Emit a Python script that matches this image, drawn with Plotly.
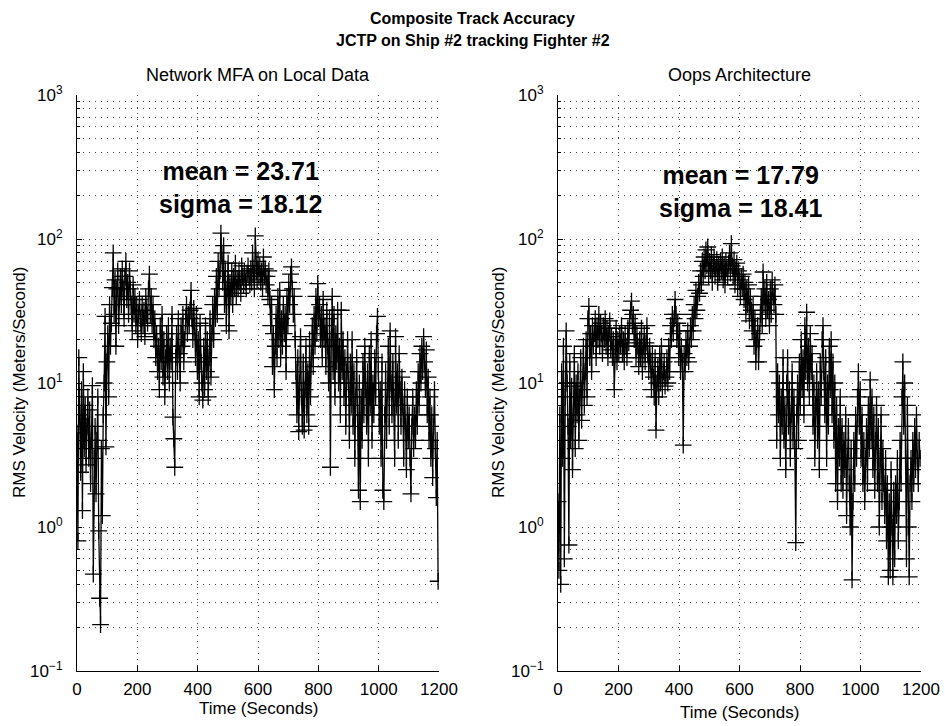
import plotly.graph_objects as go

# Sample times (seconds), one sample every 3 s
time_s = [3 * i for i in range(400)]

# RMS velocity error, Network MFA on local data (m/s)
mfa_rms = [
    4.5, 0.8, 15, 6, 2.4, 9, 1.3, 12, 3.5, 7,
    2.7, 5, 8, 3, 6.5, 2, 4, 9.6, 0.47, 3,
    5, 1.7, 4, 8, 0.94, 0.32, 0.21, 3.5, 1.2, 6,
    10, 29, 3.6, 14, 22, 8, 35, 18, 26, 46,
    80, 30, 52, 18, 45, 60, 25, 40, 55, 35,
    62, 45, 28, 55, 70, 38, 50, 30, 60, 45,
    35, 23, 48, 30, 40, 25, 35, 20, 30, 38,
    28, 22, 35, 25, 32, 21, 40, 30, 26, 45,
    57, 30, 40, 25, 35, 20, 28, 15, 22, 12,
    18, 9, 25, 14, 30, 11, 20, 8, 15, 22,
    12, 25, 10, 18, 14, 30, 5.8, 4.1, 2.6, 15,
    22, 12, 28, 16, 10, 25, 18, 30, 14, 20,
    28, 35, 22, 30, 25, 32, 44, 28, 20, 33,
    25, 15, 30, 12, 20, 8, 26, 14, 10, 7.6,
    18, 9, 25, 12, 20, 8, 15, 28, 11, 22,
    35, 20, 40, 28, 55, 30, 70, 45, 60, 110,
    80, 50, 90, 35, 60, 25, 45, 68, 23, 50,
    40, 60, 35, 55, 45, 68, 40, 52, 45, 60,
    50, 42, 65, 55, 48, 60, 50, 45, 58, 65,
    55, 48, 62, 50, 80, 58, 45, 105, 60, 52,
    70, 55, 65, 50, 60, 45, 75, 55, 62, 48,
    55, 40, 60, 38, 25, 35, 13, 22, 9, 18,
    30, 15, 40, 20, 44, 15, 28, 18, 35, 22,
    30, 12, 40, 25, 50, 35, 57, 64, 45, 30,
    40, 20, 12, 6, 15, 4.6, 10, 21, 8, 5,
    14, 4.7, 9, 18, 6, 12, 5, 20, 8, 15,
    25, 13, 30, 18, 40, 22, 49, 28, 35, 20,
    30, 15, 38, 20, 25, 13, 32, 18, 10, 28,
    2.6, 20, 40, 12, 30, 8, 22, 14, 32, 10,
    18, 6, 32, 12, 20, 8, 15, 5, 12, 20,
    10, 4, 14, 7, 20, 5, 12, 3, 8, 15,
    6, 1.8, 10, 1.5, 8, 4, 14, 6, 18, 9,
    5, 12, 3, 16, 7, 20, 4, 10, 6, 15,
    8, 22, 29, 12, 5, 9, 3, 14, 1.8, 1.5,
    6, 12, 4, 9, 18, 5, 23, 10, 6, 14,
    8, 3, 21, 7, 12, 4, 16, 9, 5, 11,
    7, 3, 9, 5, 2.5, 8, 4, 6, 3, 1.7,
    5, 8, 3.5, 6, 4, 9, 5, 12, 7, 16,
    10, 18, 12, 21, 14, 9, 17, 6, 11, 4,
    8, 3, 6, 2.2, 5, 9, 3.5, 1.6, 4, 0.42,
]

# RMS velocity error, Oops architecture (m/s)
oops_rms = [
    1.5, 0.5, 6, 0.4, 12, 3, 18, 0.6, 8, 23,
    10, 5, 0.75, 14, 4, 9.5, 2.5, 6, 16, 3.5,
    10, 6, 12, 4, 8, 15, 5.5, 9, 18, 7,
    12, 20, 8, 28, 34, 15, 22, 12, 25, 18,
    22, 28, 15, 25, 20, 30, 18, 26, 22, 16,
    25, 20, 28, 18, 24, 15, 22, 27, 17, 21,
    15, 20, 9, 18, 24, 14, 20, 16, 22, 18,
    25, 16, 20, 14, 22, 18, 15, 24, 19, 28,
    32, 37, 25, 30, 20, 26, 15, 22, 18, 13,
    20, 15, 24, 12, 18, 22, 14, 19, 25, 16,
    12, 18, 14, 9, 16, 11, 8, 15, 4.7, 10,
    13, 8, 16, 10, 18, 9, 12, 14, 9.5, 11,
    15, 10, 18, 12, 25, 20, 30, 22, 28, 38,
    30, 20, 26, 15, 23, 12, 18, 14, 3.7, 16,
    12, 20, 15, 23, 14, 18, 25, 20, 30, 23,
    35, 28, 44, 32, 40, 50, 42, 60, 48, 70,
    55, 75, 60, 84, 65, 88, 55, 70, 60, 78,
    50, 68, 75, 55, 62, 72, 50, 65, 58, 70,
    60, 75, 52, 66, 48, 70, 62, 55, 68, 80,
    58, 93, 65, 55, 72, 48, 62, 68, 45, 60,
    52, 40, 55, 45, 57, 38, 50, 30, 45, 35,
    48, 27, 40, 32, 23, 35, 18, 28, 14, 20,
    25, 14, 22, 30, 40, 25, 59, 35, 45, 28,
    50, 32, 38, 25, 45, 30, 52, 40, 35, 48,
    30, 4, 12, 6, 10, 3, 8, 5, 15, 4,
    7, 2.5, 10, 15, 5, 9, 3, 6, 12, 4,
    8, 3.5, 0.78, 6, 10, 4, 14, 7, 20, 9,
    15, 6, 25, 12, 31, 10, 18, 8, 22, 12,
    16, 5, 10, 3, 7, 12, 4, 9, 2.5, 14,
    8, 20, 25, 12, 6, 15, 3, 10, 5, 18,
    9, 20, 6, 14, 4, 10, 2, 7, 1.5, 5,
    3, 8, 2, 5, 1.8, 4, 2.5, 6, 1.2, 3,
    5, 2, 1, 3.5, 0.43, 1.5, 4, 2, 6, 3,
    8, 12, 5, 9, 3, 6, 2, 4, 1.5, 3,
    5, 2, 7, 3.5, 10.5, 4, 8, 2.5, 6, 1.8,
    4, 7, 2, 5, 1, 3, 6, 1.5, 3.5, 2,
    1.2, 3, 0.8, 2, 0.45, 1.5, 0.5, 2.5, 1, 0.45,
    1.8, 0.6, 2, 1.2, 3, 0.8, 1.5, 4, 2, 8,
    14, 5, 10, 3, 0.6, 7, 1, 0.45, 2, 3,
    1.5, 4, 2, 5, 2.5, 6, 3, 2, 4, 3,
]

x_ticks = [0, 200, 400, 600, 800, 1000, 1200]
y_ticks = [0.1, 1, 10, 100, 1000]
y_tick_text = ["10<sup>\u22121</sup>", "10<sup>0</sup>", "10<sup>1</sup>",
               "10<sup>2</sup>", "10<sup>3</sup>"]
y_minor = [m * 10 ** e for e in range(-1, 3) for m in range(2, 10)]

panel_titles = ["Network MFA on Local Data", "Oops Architecture"]
stats_text = ["mean = 23.71<br>sigma = 18.12", "mean = 17.79<br>sigma = 18.41"]

W, H = 945, 726
FONT = "Liberation Sans, Arial, Helvetica, sans-serif"

# panel geometry in pixels
panels = [(77, 439), (558, 921)]
top_px, bot_px = 95, 671


def px_x(p):
    return p / W


def px_y(p):
    return 1 - p / H


fig = go.Figure()

for i, series in enumerate([mfa_rms, oops_rms]):
    fig.add_trace(go.Scatter(
        x=time_s, y=series, mode="lines+markers",
        line=dict(color="black", width=1.3),
        marker=dict(symbol="cross-thin", size=12,
                    line=dict(color="black", width=1.3)),
        xaxis="x" if i == 0 else "x2",
        yaxis="y" if i == 0 else "y2",
        showlegend=False, hoverinfo="skip",
    ))

grid_dash = "1px,5px"
grid_col = "rgba(0,0,0,0.75)"

for i, (l, r) in enumerate(panels):
    sfx = "" if i == 0 else "2"
    fig.update_layout(**{
        "xaxis" + sfx: dict(
            domain=[px_x(l), px_x(r)], range=[0, 1200],
            anchor="y" + sfx,
            tickmode="array", tickvals=x_ticks,
            ticks="inside", ticklen=5, tickcolor="black",
            showline=True, linecolor="black", linewidth=1,
            showgrid=True, gridcolor=grid_col, griddash=grid_dash, gridwidth=1,
            zeroline=False,
            tickfont=dict(family=FONT, size=17, color="black"),
            ticklabelstandoff=3,
        ),
        "yaxis" + sfx: dict(
            domain=[px_y(bot_px), px_y(top_px)], type="log",
            range=[-1, 3], anchor="x" + sfx,
            tickmode="array", tickvals=y_ticks, ticktext=y_tick_text,
            ticks="inside", ticklen=5, tickcolor="black",
            showline=True, linecolor="black", linewidth=1,
            showgrid=True, gridcolor=grid_col, griddash=grid_dash, gridwidth=1,
            zeroline=False,
            minor=dict(tickmode="array", tickvals=y_minor, ticks="inside",
                       ticklen=3, tickcolor="black", showgrid=True,
                       gridcolor=grid_col, griddash=grid_dash, gridwidth=1),
            tickfont=dict(family=FONT, size=17, color="black"),
            ticklabelstandoff=10,
        ),
    })


def label(text, xp, yp, size, angle=0):
    return dict(text=text, x=px_x(xp), y=px_y(yp), xref="paper", yref="paper",
                xanchor="center", yanchor="middle", showarrow=False,
                align="center", textangle=angle,
                font=dict(family=FONT, size=size, color="black"))


ann = [
    label("<b>Composite Track Accuracy</b>", W / 2, 18, 16),
    label("<b>JCTP on Ship #2 tracking Fighter #2</b>", W / 2, 41, 16),
]

stats_pos = [(240, 187), (740, 191)]
ylab_x = [20, 499]
xlab_y = [708, 712]
for i, (l, r) in enumerate(panels):
    cx = (l + r) / 2
    ann.append(label(panel_titles[i], cx, 75, 18))
    ann.append(label("Time (Seconds)", cx, xlab_y[i], 17))
    ann.append(label("RMS Velocity (Meters/Second)", ylab_x[i],
                     (top_px + bot_px) / 2, 17, angle=-90))
    sx, sy = stats_pos[i]
    ann.append(label("<b>" + stats_text[i] + "</b>", sx, sy, 25))

fig.update_layout(
    width=W, height=H,
    margin=dict(l=0, r=0, t=0, b=0, pad=0, autoexpand=False),
    paper_bgcolor="white", plot_bgcolor="white",
    annotations=ann,
)

fig.write_html("out.html")
